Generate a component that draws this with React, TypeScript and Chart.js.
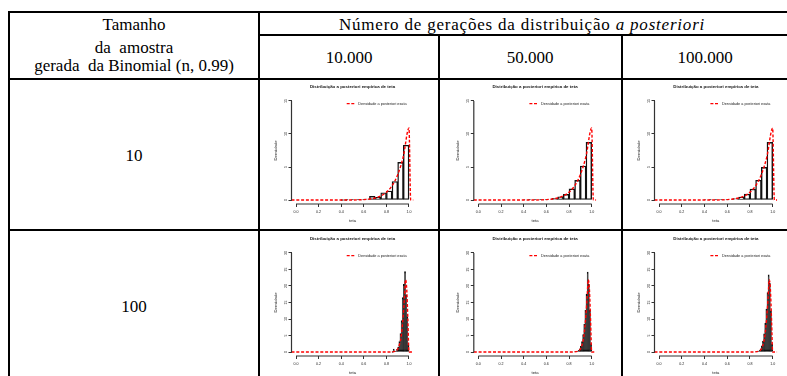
import React, { useEffect, useRef } from "react";
import { Chart, registerables } from "chart.js";

Chart.register(...registerables);

// ---------- table text ----------
const rowHeaderLines = ["Tamanho", "da  amostra", "gerada  da Binomial (n, 0.99)"];
const groupTitle = "Número de gerações da distribuição ";
const groupTitleItalic = "a posteriori";
const generationLabels = ["10.000", "50.000", "100.000"];
const sampleSizeLabels = ["10", "100"];

// ---------- plot text ----------
const plotTitle = "Distribuição a posteriori empírica de teta";
const legendLabel = "Densidade a posteriori exata";
const xAxisTitle = "teta";
const yAxisTitle = "Densidade";

// ---------- ticks ----------
const xTickValues = [0, 0.2, 0.4, 0.6, 0.8, 1.0];
const yTicksN10 = [0, 5, 10, 15];
const yTicksN100 = [0, 5, 10, 15, 20, 25, 30];

// ---------- n = 10 : histogram (bin width 0.05) ----------
const binsN10 = [0.425, 0.475, 0.525, 0.575, 0.625, 0.675, 0.725, 0.775, 0.825, 0.875, 0.925, 0.975];
const histN10G10k = [0.0, 0.02, 0.05, 0.08, 0.15, 0.55, 0.4, 1.1, 1.36, 2.8, 5.7, 8.3];
const histN10G50k = [0.005, 0.01, 0.02, 0.05, 0.12, 0.25, 0.5, 0.86, 1.7, 2.98, 5.15, 8.74];
const histN10G100k = [0.005, 0.01, 0.02, 0.05, 0.1, 0.22, 0.45, 0.9, 1.65, 3.0, 4.95, 8.74];

// exact posterior density, n = 10
const curveXN10 = [-0.04, 0.0, 0.2, 0.4, 0.5, 0.6, 0.65, 0.7, 0.75, 0.8, 0.85, 0.9, 0.95, 1.0, 1.015, 1.04];
const curveYN10 = [0, 0, 0, 0, 0.01, 0.07, 0.15, 0.31, 0.62, 1.18, 2.16, 3.84, 6.6, 10.9, 0, 0];

// ---------- n = 100 : histogram (bin width 0.01) ----------
const binsN100 = [0.855, 0.865, 0.875, 0.885, 0.895, 0.905, 0.915, 0.925, 0.935, 0.945, 0.955, 0.965, 0.975, 0.985, 0.995];
const histN100G10k = [0.0, 0.9, 0.2, 0.3, 0.8, 1.5, 3.2, 5.6, 9.5, 16.5, 20.5, 24.4, 17.3, 10.7, 2.0];
const histN100G50k = [0.05, 0.1, 0.25, 0.5, 1.0, 1.8, 3.2, 5.3, 8.4, 12.6, 17.5, 24.2, 20.5, 12.8, 2.5];
const histN100G100k = [0.05, 0.1, 0.25, 0.5, 1.0, 1.9, 3.3, 5.5, 8.7, 13.0, 18.0, 23.4, 20.8, 12.5, 2.4];

// exact posterior density, n = 100
const curveXN100 = [-0.04, 0.0, 0.8, 0.85, 0.88, 0.9, 0.92, 0.93, 0.94, 0.95, 0.96, 0.97, 0.98, 0.99, 1.0, 1.04];
const curveYN100 = [0, 0, 0, 0.05, 0.3, 0.9, 2.8, 4.5, 7.5, 11.5, 16.5, 21.9, 19.0, 10.0, 0, 0];

type PlotSpec = {
  bins: number[];
  heights: number[];
  curveX: number[];
  curveY: number[];
  yTicks: number[];
  barFill: string;
};

const rowSpecs = [
  { bins: binsN10, curveX: curveXN10, curveY: curveYN10, yTicks: yTicksN10, barFill: "#ffffff", hists: [histN10G10k, histN10G50k, histN10G100k] },
  { bins: binsN100, curveX: curveXN100, curveY: curveYN100, yTicks: yTicksN100, barFill: "#111111", hists: [histN100G10k, histN100G50k, histN100G100k] },
];

// cell / plot-region geometry in page pixels
const COLS = [
  { left: 260, width: 178, plotLeft: 291.5, plotRight: 413.5 },
  { left: 440, width: 181, plotLeft: 473.8, plotRight: 596.2 },
  { left: 623, width: 164, plotLeft: 654.5, plotRight: 777.2 },
];
const ROWS = [
  { top: 80, height: 149, plotTop: 97, plotBottom: 204 },
  { top: 231, height: 145, plotTop: 249, plotBottom: 356 },
];
const Y_AXIS_W = 12;
const X_AXIS_H = 12;

const SANS = '"Liberation Sans", Arial, sans-serif';
const SERIF = '"Liberation Serif", "Times New Roman", Times, serif';
const AXIS_COLOR = "#333333";

const rFrame = {
  id: "rFrame",
  afterDraw(chart: any) {
    const { ctx, chartArea: a } = chart;
    const xs = chart.scales.x;
    const ys = chart.scales.y;
    const yVals: number[] = ys.ticks.map((t: any) => t.value);
    const yMax = yVals[yVals.length - 1];
    const cx = (a.left + a.right) / 2;
    ctx.save();
    ctx.setLineDash([]);

    // axis lines spanning first to last tick
    ctx.strokeStyle = AXIS_COLOR;
    ctx.lineWidth = 1.2;
    ctx.beginPath();
    ctx.moveTo(xs.getPixelForValue(xTickValues[0]), a.bottom);
    ctx.lineTo(xs.getPixelForValue(xTickValues[xTickValues.length - 1]), a.bottom);
    ctx.moveTo(a.left, ys.getPixelForValue(yVals[0]));
    ctx.lineTo(a.left, ys.getPixelForValue(yMax));
    ctx.stroke();

    // rotated y tick labels
    ctx.fillStyle = "#222222";
    ctx.font = `3.6px ${SANS}`;
    ctx.textAlign = "center";
    ctx.textBaseline = "middle";
    for (const v of yVals) {
      ctx.save();
      ctx.translate(a.left - 6, ys.getPixelForValue(v));
      ctx.rotate(-Math.PI / 2);
      ctx.fillText(String(v), 0, 0);
      ctx.restore();
    }

    // axis titles
    ctx.font = `4.2px ${SANS}`;
    ctx.save();
    ctx.translate(a.left - 15.8, (a.top + a.bottom) / 2);
    ctx.rotate(-Math.PI / 2);
    ctx.fillText(yAxisTitle, 0, 0);
    ctx.restore();
    ctx.fillText(xAxisTitle, cx, a.bottom + 17.3);

    // main title
    ctx.fillStyle = "#111111";
    ctx.font = `bold 4.4px ${SANS}`;
    ctx.fillText(plotTitle, cx, a.top - 10);

    // legend, top right
    const ly = ys.getPixelForValue(yMax) + 2.6;
    ctx.strokeStyle = "#ff0000";
    ctx.lineWidth = 1.2;
    ctx.setLineDash([3, 1.6]);
    ctx.beginPath();
    ctx.moveTo(a.right - 66.8, ly);
    ctx.lineTo(a.right - 58.5, ly);
    ctx.stroke();
    ctx.setLineDash([]);
    ctx.fillStyle = "#222222";
    ctx.font = `3.8px ${SANS}`;
    ctx.textAlign = "left";
    ctx.fillText(legendLabel, a.right - 55.2, ly);
    ctx.restore();
  },
};

function PosteriorPlot({ spec, row, col }: { spec: PlotSpec; row: number; col: number }) {
  const ref = useRef<HTMLCanvasElement>(null);
  const c = COLS[col];
  const r = ROWS[row];

  useEffect(() => {
    const canvas = ref.current;
    if (!canvas) return;
    const yTop = spec.yTicks[spec.yTicks.length - 1];
    const chart = new Chart(canvas, {
      type: "bar",
      data: {
        datasets: [
          {
            type: "line",
            data: spec.curveX.map((x, i) => ({ x, y: spec.curveY[i] })),
            borderColor: "#ff0000",
            borderWidth: 1.4,
            borderDash: [3, 1.8],
            pointRadius: 0,
            fill: false,
            cubicInterpolationMode: "monotone",
            order: 0,
          } as any,
          {
            type: "bar",
            data: spec.bins.map((x, i) => ({ x, y: spec.heights[i] })),
            backgroundColor: spec.barFill,
            borderColor: "#111111",
            borderWidth: 1.4,
            borderSkipped: false,
            barPercentage: 1,
            categoryPercentage: 1,
            minBarLength: 0.8,
            order: 1,
          } as any,
        ],
      },
      options: {
        responsive: false,
        animation: false,
        devicePixelRatio: 1,
        layout: {
          padding: {
            left: c.plotLeft - c.left - Y_AXIS_W,
            right: c.left + c.width - c.plotRight,
            top: r.plotTop - r.top,
            bottom: r.top + r.height - r.plotBottom - X_AXIS_H,
          },
        },
        plugins: {
          legend: { display: false },
          title: { display: false },
          tooltip: { enabled: false },
        },
        scales: {
          x: {
            type: "linear",
            offset: false,
            min: -0.04,
            max: 1.04,
            afterBuildTicks: (axis: any) => {
              axis.ticks = xTickValues.map((v) => ({ value: v }));
            },
            afterFit: (axis: any) => {
              axis.height = X_AXIS_H;
            },
            border: { display: false },
            grid: {
              offset: false,
              drawOnChartArea: false,
              drawTicks: true,
              tickLength: 3,
              color: AXIS_COLOR,
              lineWidth: 1,
            },
            ticks: {
              autoSkip: false,
              maxRotation: 0,
              minRotation: 0,
              padding: 3,
              color: "#222222",
              font: { family: SANS, size: 3.6 },
              callback: (v: any) => Number(v).toFixed(1),
            },
          },
          y: {
            type: "linear",
            min: -0.04 * yTop,
            max: 1.04 * yTop,
            afterBuildTicks: (axis: any) => {
              axis.ticks = spec.yTicks.map((v) => ({ value: v }));
            },
            afterFit: (axis: any) => {
              axis.width = Y_AXIS_W;
            },
            border: { display: false },
            grid: {
              drawOnChartArea: false,
              drawTicks: true,
              tickLength: 3,
              color: AXIS_COLOR,
              lineWidth: 1,
            },
            ticks: { display: false },
          },
        },
      },
      plugins: [rFrame],
    } as any);
    return () => chart.destroy();
  }, [spec]);

  return (
    <canvas
      ref={ref}
      width={c.width}
      height={r.height}
      style={{ position: "absolute", left: c.left, top: r.top, width: c.width, height: r.height }}
    />
  );
}

function Rule({ left, top, width, height }: { left: number; top: number; width: number; height: number }) {
  return <div style={{ position: "absolute", left, top, width, height, background: "#000" }} />;
}

function Label({
  x,
  y,
  children,
  size = 17,
  spacing = 0,
}: {
  x: number;
  y: number;
  children: React.ReactNode;
  size?: number;
  spacing?: number;
}) {
  return (
    <div
      style={{
        position: "absolute",
        left: x,
        top: y,
        transform: "translate(-50%, -50%)",
        whiteSpace: "pre",
        fontFamily: SERIF,
        fontSize: size,
        letterSpacing: spacing,
        lineHeight: 1,
        color: "#000",
      }}
    >
      {children}
    </div>
  );
}

const PLOTS = rowSpecs.flatMap((rs, ri) =>
  rs.hists.map((h, ci) => ({
    ri,
    ci,
    spec: { bins: rs.bins, heights: h, curveX: rs.curveX, curveY: rs.curveY, yTicks: rs.yTicks, barFill: rs.barFill },
  }))
);

export default function App() {
  const colCenters = [349, 530, 705];
  const rowCenters = [155, 306];
  return (
    <div
      style={{
        position: "absolute",
        left: 0,
        top: 0,
        width: 787,
        height: 376,
        overflow: "hidden",
        background: "#fff",
      }}
    >
      {/* table rules */}
      <Rule left={9} top={11} width={790} height={2} />
      <Rule left={8} top={11} width={2} height={380} />
      <Rule left={258} top={11} width={2} height={380} />
      <Rule left={258} top={34} width={540} height={2} />
      <Rule left={438} top={34} width={2} height={350} />
      <Rule left={621} top={34} width={2} height={350} />
      <Rule left={8} top={78} width={790} height={2} />
      <Rule left={8} top={229} width={790} height={2} />

      {/* header */}
      <Label x={134} y={24}>{rowHeaderLines[0]}</Label>
      <Label x={134} y={47}>{rowHeaderLines[1]}</Label>
      <Label x={134} y={65}>{rowHeaderLines[2]}</Label>
      <Label x={522} y={24} spacing={0.8}>
        {groupTitle}
        <i>{groupTitleItalic}</i>
      </Label>
      {generationLabels.map((g, i) => (
        <Label key={g} x={colCenters[i]} y={57}>{g}</Label>
      ))}
      {sampleSizeLabels.map((s, i) => (
        <Label key={s} x={134} y={rowCenters[i]}>{s}</Label>
      ))}

      {/* posterior plots */}
      {PLOTS.map(({ ri, ci, spec }) => (
        <PosteriorPlot key={`${ri}-${ci}`} row={ri} col={ci} spec={spec} />
      ))}
    </div>
  );
}
